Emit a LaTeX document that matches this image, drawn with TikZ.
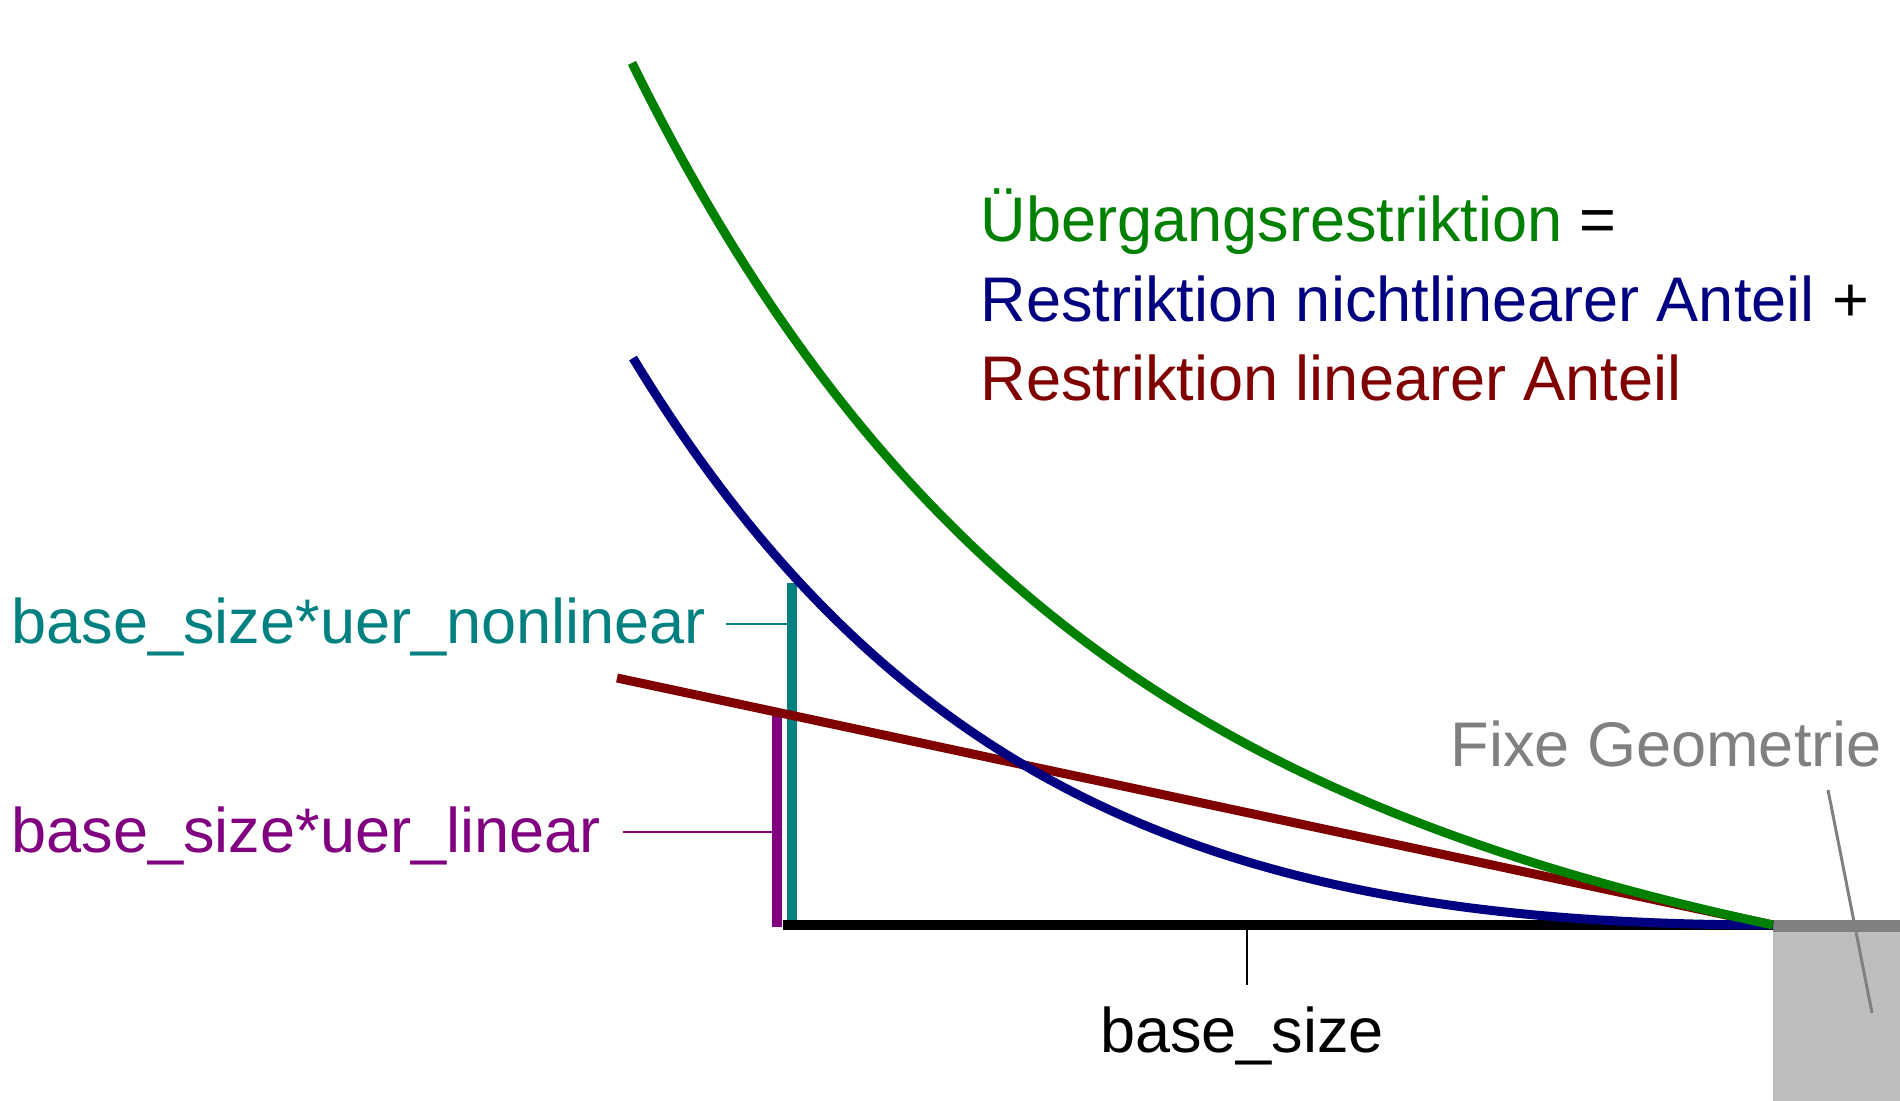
\documentclass[tikz,border=0pt]{standalone}
\usepackage{fontspec}
\setmainfont{Liberation Sans}
\usetikzlibrary{positioning}
\definecolor{gruen}{HTML}{008000}
\definecolor{blau}{HTML}{000080}
\definecolor{rot}{HTML}{800000}
\definecolor{tuerkis}{HTML}{008080}
\definecolor{lila}{HTML}{800080}
\definecolor{grau}{HTML}{808080}
\definecolor{hellgrau}{HTML}{BEBEBE}

\begin{document}
\begin{tikzpicture}[
	x=0.01cm, y=-0.01cm,
	every node/.style={inner sep=0pt, font=\fontsize{17.93}{21}\selectfont},
	curve/.style = {line width=2.56pt},
	bar/.style = {line width=2.85pt},
	tick/.style = {line width=0.57pt},
	declare function = {
		hnl(\d) = 53.9*(exp(\d/430)-1-\d/430);
		hges(\d) = 0.2154*\d+54*(exp(\d/420)-1-\d/420);
	}
	]
	\useasboundingbox (0,0) rectangle (1900,1101);

	\coordinate (@0) at (783,925);
	\coordinate (@1) at (1773,925);
	\coordinate (@r) at (617,678);

	% Balken fuer die Anteile
	\draw[bar,tuerkis] (792,583) coordinate (@ttop) -- (792,925) coordinate (@tbot);
	\draw[bar,lila] (777,715) coordinate (@ltop) -- (777,927) coordinate (@lbot);
	\draw[bar,black] (@0) -- (@1);

	% fixe Geometrie
	\fill[hellgrau] (1773,927) rectangle (1900,1101);
	\draw[line width=3.13pt,grau] (1773,926) -- (1900,926);

	\draw[curve,rot] (@r) -- (@1);
	\draw[curve,blau] plot[domain=0:1140,samples=120,variable=\d] ({1773-\d},{925-hnl(\d)});
	\draw[curve,gruen] plot[domain=0:1141,samples=120,variable=\d] ({1773-\d},{925-hges(\d)});

	\node[anchor=base west] (ueber) at (980,242) {{\color{gruen}Übergangsrestriktion} =};
	\node[anchor=base west] (nichtlin) at (980,322) {{\color{blau}Restriktion nichtlinearer Anteil} +};
	\node[anchor=base west,text=rot] (lin) at (980,401) {Restriktion linearer Anteil};

	\node[anchor=base west,text=tuerkis] (uernl) at (11,644) {base\_size*uer\_nonlinear};
	\node[anchor=base west,text=lila] (uerl) at (11,853) {base\_size*uer\_linear};
	\node[anchor=base] (base) at (1242,1052) {base\_size};
	\node[anchor=base west,text=grau] (fix) at (1450,767) {Fixe Geometrie};

	\coordinate (@nl) at (726,624);
	\coordinate (@ll) at (623,832);
	\coordinate (@b) at (1247,930);
	\coordinate (@f) at (1828,790);

	\draw[tick,tuerkis] (@nl) -- (@nl -| @ttop);
	\draw[tick,lila] (@ll) -- (@ll -| @ltop);
	\draw[tick,black] (@b) -- (1247,985);
	\draw[line width=0.85pt,grau] (@f) -- (1872,1013);

\end{tikzpicture}
\end{document}
